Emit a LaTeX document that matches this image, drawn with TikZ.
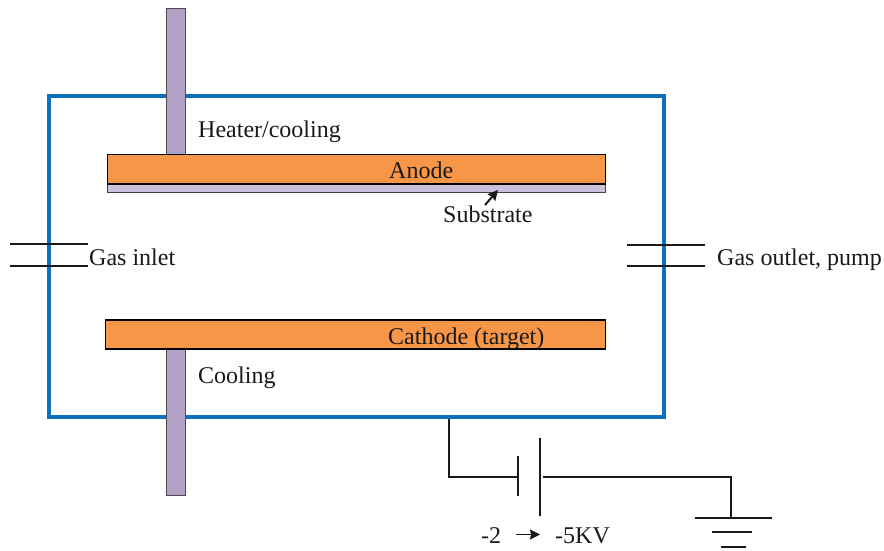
\documentclass[tikz,border=0pt]{standalone}
\usepackage{fontspec}
\setmainfont{Liberation Serif}
\usetikzlibrary{arrows.meta}
\definecolor{chamber}{HTML}{0B70BE}
\definecolor{plate}{HTML}{F79646}
\definecolor{rod}{HTML}{B3A2C7}
\definecolor{subst}{HTML}{CCC1DA}
\tikzset{
  x=1pt,y=-1pt,
  lbl/.style={inner sep=0pt,anchor=base west,font=\fontsize{24}{26}\selectfont,text=black!90},
  plt/.style={draw=black,line width=1.3pt,fill=plate},
  rodbox/.style={draw=black!70,line width=1pt,fill=rod},
  wire/.style={draw=black!90,line width=1.5pt},
  solidtip/.style={-{Stealth[inset=1pt,length=10pt,width=10pt]}},
}
\begin{document}
\begin{tikzpicture}
\useasboundingbox (0,0) rectangle (884,551);
% chamber
\draw[chamber,line width=4pt] (49,96) rectangle (664,417);
% rods
\draw[rodbox] (166,9) rectangle (185.7,155);
\draw[rodbox] (166,349) rectangle (185.7,495);
% substrate and plates
\draw[draw=black!75,line width=1.1pt,fill=subst] (107.5,184) rectangle (605.5,192.5);
\draw[plt] (107.5,154.5) rectangle (605.5,184);
\draw[plt] (105.5,320) rectangle (605.5,349);
% labels
\node[lbl] (heater) at (198,137) {Heater/cooling};
\node[lbl] (anode) at (389,178) {Anode};
\node[lbl] (substrate) at (443,222) {Substrate};
\node[lbl] (inlet) at (89,265) {Gas inlet};
\node[lbl] (outlet) at (717,265) {Gas outlet, pump};
\node[lbl] (cathode) at (388,344) {Cathode (target)};
\node[lbl] (cool) at (198,383) {Cooling};
\node[lbl] (vlow) at (481,543) {-2};
\node[lbl] (vhigh) at (555,543) {-5KV};
% substrate arrow
\coordinate (sa) at (485,205);
\coordinate (sb) at (498,190);
\draw[wire,line width=2pt,solidtip] (sa) -- (sb);
% ports
\coordinate (il1) at (10,244); \coordinate (il2) at (88,244);
\coordinate (il3) at (10,266); \coordinate (il4) at (88,266);
\coordinate (ol1) at (627,245); \coordinate (ol2) at (705,245);
\coordinate (ol3) at (627,266); \coordinate (ol4) at (705,266);
\draw[wire] (il1) -- (il2);
\draw[wire] (il3) -- (il4);
\draw[wire] (ol1) -- (ol2);
\draw[wire] (ol3) -- (ol4);
% circuit
\coordinate (c0) at (449,419);
\coordinate (c1) at (517,477);
\coordinate (b1) at (518,456);
\coordinate (b2) at (518,496);
\coordinate (b3) at (540,438);
\coordinate (b4) at (540,516);
\coordinate (c2) at (543,477);
\coordinate (g0) at (731,518);
\draw[wire] (c0) |- (c1);
\draw[wire] (b1) -- (b2);
\draw[wire] (b3) -- (b4);
\draw[wire] (c2) -| (g0);
\coordinate (g1) at (695,518); \coordinate (g2) at (772,518);
\coordinate (g3) at (712,532); \coordinate (g4) at (752,532);
\coordinate (g5) at (721,547); \coordinate (g6) at (746,547);
\draw[wire] (g1) -- (g2);
\draw[wire] (g3) -- (g4);
\draw[wire] (g5) -- (g6);
% voltage arrow
\coordinate (va) at (516,534.5);
\coordinate (vb) at (540,534.5);
\draw[wire,solidtip] (va) -- (vb);
\end{tikzpicture}
\end{document}
